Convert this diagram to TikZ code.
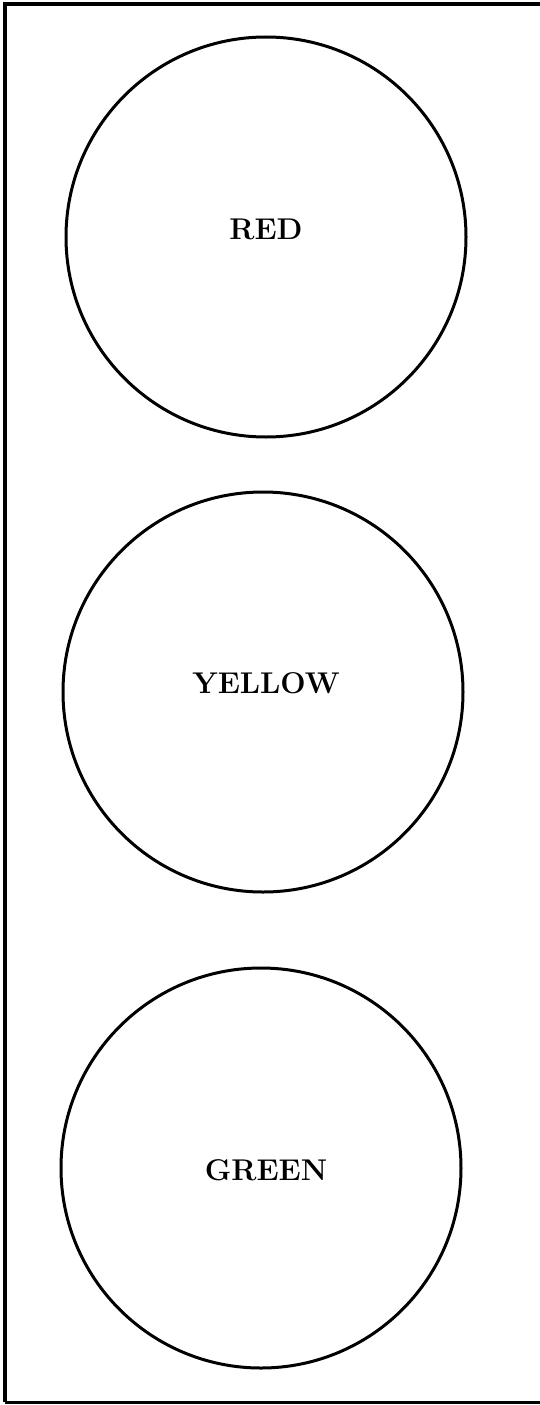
\documentclass[tikz,border=0pt]{standalone}
\begin{document}
\begin{tikzpicture}[x=1pt,y=-1pt,
    lamp/.style={circle,draw,line width=3pt,minimum size=400pt,inner sep=0pt},
    label/.style={font=\fontsize{30}{32}\selectfont\bfseries}]
    \useasboundingbox (0,0) rectangle (539,1405);

    % Frame
    \draw[line width=3.5pt] (5,1402) -- (5,4) -- (545,4);
    \draw[line width=3pt] (5,1402) -- (545,1402);

    % Lamps
    \node[lamp] (red) at (266,237) {};
    \node[lamp] (yellow) at (263,692) {};
    \node[lamp] (green) at (261,1168) {};

    % Texts
    \node[label] at (266,229) {RED};
    \node[label] at (266,683) {YELLOW};
    \node[label] at (266,1170) {GREEN};
\end{tikzpicture}
\end{document}
